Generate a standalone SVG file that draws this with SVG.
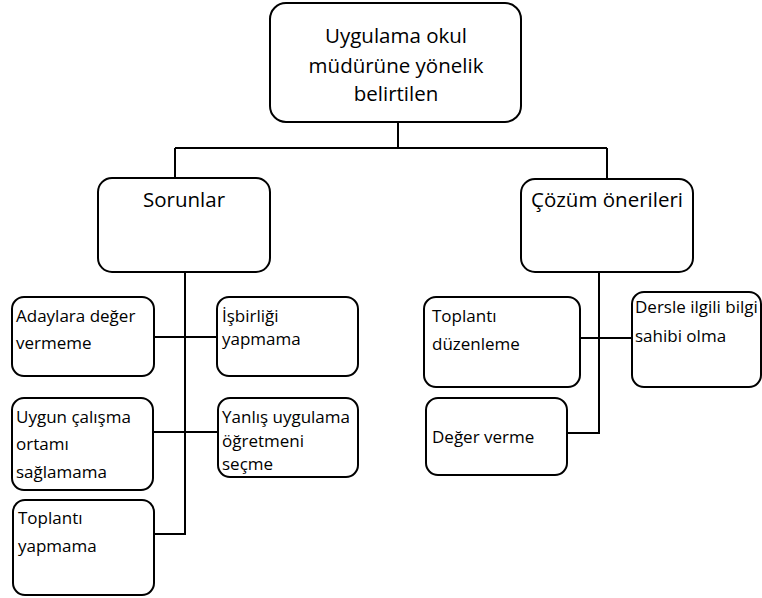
<svg xmlns="http://www.w3.org/2000/svg" width="762" height="598" viewBox="0 0 762 598">
<style>
.box{fill:#fff;stroke:#000;stroke-width:2}
.ln{fill:none;stroke:#000;stroke-width:2}
.t{font-family:"Open Sans","Liberation Sans",sans-serif;fill:#000}
.big{font-size:20.5px;text-anchor:middle}
.sm{font-size:17px}
</style>
<rect width="762" height="598" fill="#fff"/>
<g id="connectors">
<path class="ln" d="M398,122 V148 M175,148 H607 M175,148 V178 M607,148 V179"/>
<path class="ln" d="M185,272 V534 H154 M154,337 H217 M153,432 H218"/>
<path class="ln" d="M599,272 V433 H567 M580,338 H632"/>
</g>
<g id="root">
<rect class="box" x="270" y="3" width="251" height="119" rx="16"/>
<text class="t big" x="396" y="43">Uygulama okul</text>
<text class="t big" x="396" y="73">müdürüne yönelik</text>
<text class="t big" x="396" y="101">belirtilen</text>
</g>
<g id="sorunlar">
<rect class="box" x="98" y="178" width="172" height="94" rx="14"/>
<text class="t big" x="184" y="207">Sorunlar</text>
</g>
<g id="cozum">
<rect class="box" x="521" y="179" width="172" height="93" rx="14"/>
<text class="t big" x="607" y="207">Çözüm önerileri</text>
</g>
<g id="adaylara">
<rect class="box" x="12" y="297" width="142" height="79" rx="12"/>
<text class="t sm" x="16" y="322">Adaylara değer</text>
<text class="t sm" x="16" y="349">vermeme</text>
</g>
<g id="isbirligi">
<rect class="box" x="217" y="297" width="141" height="79" rx="12"/>
<text class="t sm" x="222" y="322">İşbirliği</text>
<text class="t sm" x="222" y="345">yapmama</text>
</g>
<g id="uygun">
<rect class="box" x="12" y="398" width="141" height="92" rx="12"/>
<text class="t sm" x="16" y="423">Uygun çalışma</text>
<text class="t sm" x="16" y="450">ortamı</text>
<text class="t sm" x="16" y="478">sağlamama</text>
</g>
<g id="yanlis">
<rect class="box" x="218" y="398" width="140" height="79" rx="12"/>
<text class="t sm" x="222" y="423">Yanlış uygulama</text>
<text class="t sm" x="222" y="447">öğretmeni</text>
<text class="t sm" x="222" y="470">seçme</text>
</g>
<g id="toplanti-yapmama">
<rect class="box" x="13" y="500" width="141" height="95" rx="12"/>
<text class="t sm" x="18" y="524">Toplantı</text>
<text class="t sm" x="18" y="552">yapmama</text>
</g>
<g id="toplanti-duzenleme">
<rect class="box" x="424" y="297" width="156" height="90" rx="12"/>
<text class="t sm" x="432" y="322">Toplantı</text>
<text class="t sm" x="432" y="350">düzenleme</text>
</g>
<g id="dersle">
<rect class="box" x="632" y="292" width="129" height="95" rx="12"/>
<text class="t sm" x="635" y="313">Dersle ilgili bilgi</text>
<text class="t sm" x="635" y="342">sahibi olma</text>
</g>
<g id="deger-verme">
<rect class="box" x="426" y="398" width="141" height="77" rx="12"/>
<text class="t sm" x="432" y="443">Değer verme</text>
</g>
</svg>
